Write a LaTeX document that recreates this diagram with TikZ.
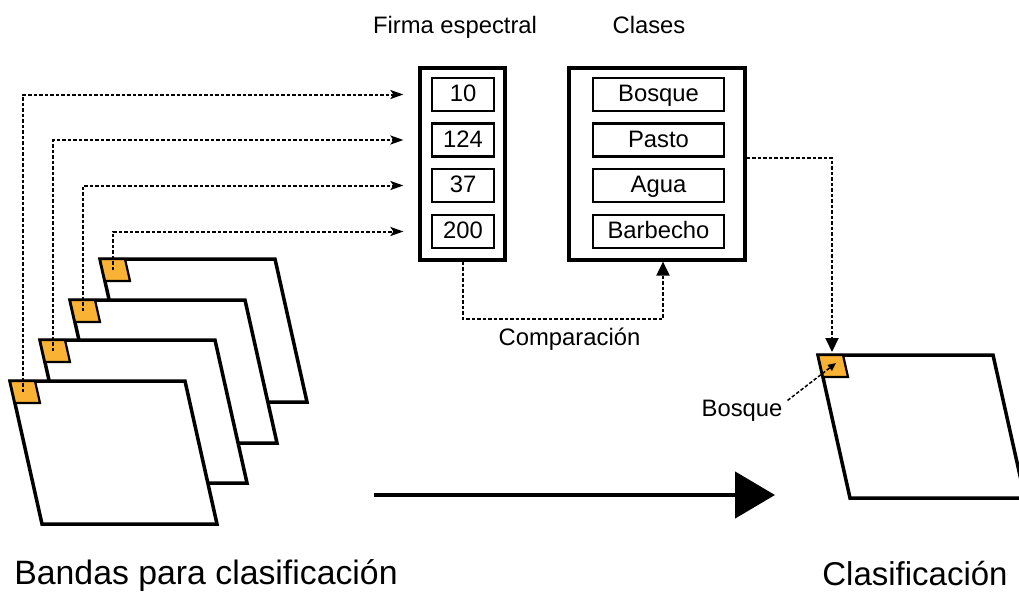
\documentclass[tikz,border=0pt]{standalone}
\usepackage{fontspec}
\setmainfont{Liberation Sans}
\usetikzlibrary{arrows.meta}
\definecolor{orangeband}{RGB}{250,178,52}
\newcommand\txtS{\fontsize{23.8}{28}\selectfont}
\newcommand\txtL{\fontsize{33}{38}\selectfont}
\newcommand\txtB{\fontsize{33.8}{38}\selectfont}
\begin{document}
\begin{tikzpicture}[x=1pt,y=-1pt,
  outerbox/.style={draw=black, line width=3.2pt, fill=white, inner sep=0pt},
  cell/.style={draw=black, line width=2.8pt, minimum width=62pt, minimum height=33pt, inner sep=0pt, text height=18pt, text depth=4pt, font=\txtS},
  bandline/.style={draw=black, line width=3.5pt, line join=miter, fill=white},
  orangeline/.style={draw=black, line width=2.2pt, fill=orangeband},
  dots/.style={draw=black, line width=2pt, dash pattern=on 3.5pt off 2pt},
  label/.style={anchor=base, inner sep=0pt}
]
\useasboundingbox (0,0) rectangle (1019,592);
\begin{scope}
\clip (0,0) rectangle (1019,592);

% stacked bands
\foreach \x/\y/\n in {100/259/4, 70/300/3, 40/340/2, 10/381/1} {
  \draw[bandline] (\x,\y) -- ++(175,0) -- ++(32,143) -- ++(-175,0) -- cycle;
  \draw[orangeline] (\x,\y) -- ++(25,0) -- ++(5,22) -- ++(-25,0) -- cycle;
  \coordinate (o\n) at (\x+13,\y+11);
}

% spectral signature box
\node[outerbox, minimum width=85pt, minimum height=192pt] (firma) at (462.5,164) {};
\node[cell] (f1) at (463,94.5) {10};
\node[cell] (f2) at (463,140) {124};
\node[cell] (f3) at (463,185.5) {37};
\node[cell] (f4) at (463,231.5) {200};

% classes box
\node[outerbox, minimum width=176pt, minimum height=192pt] (clases) at (657,164) {};
\node[cell, minimum width=131pt] (c1) at (658.5,94.5) {Bosque};
\node[cell, minimum width=131pt] (c2) at (658.5,140) {Pasto};
\node[cell, minimum width=131pt] (c3) at (658.5,185.5) {Agua};
\node[cell, minimum width=131pt] (c4) at (658.5,231.5) {Barbecho};

% titles
\node[label, font=\txtS] (tfirma) at (455,33) {Firma espectral};
\node[label, font=\txtS] (tclases) at (649,33) {Clases};
\node[label, font=\txtS] (tcomp) at (569.5,345) {Comparación};
\node[label, font=\txtB] (tbandas) at (206,584) {Bandas para clasificación};
\node[label, font=\txtL] (tclasif) at (915,585) {Clasificación};

% dotted band-to-signature connectors
\coordinate (fin) at ([xshift=-15pt]firma.west);
\foreach \n in {1,2,3,4} {
  \draw[dots, -{Stealth[length=13pt,width=9pt,inset=3pt]}] (o\n) |- (fin |- f\n);
}

% comparison connector
\draw[dots, -{Triangle[length=14pt,width=13pt]}] (firma.south) -- ++(0,57) -| ([xshift=6pt]clases.south);

% result band
\draw[bandline] (818,355) -- ++(175,0) -- ++(32,143) -- ++(-175,0) -- cycle;
\draw[orangeline] (818,355) -- ++(25,0) -- ++(5,22) -- ++(-25,0) -- cycle;
\coordinate (ro) at (836,363);
\coordinate (rtop) at (832,352);

% class to result connector
\draw[dots, -{Triangle[length=14pt,width=13pt]}] ([yshift=6pt]clases.east) -| (rtop);

% Bosque label
\node[label, font=\txtS] (lbosque) at (742,416) {Bosque};
\draw[dots, line width=1.5pt, -{Triangle[length=8pt,width=7pt]}] ([xshift=5pt,yshift=-1pt]lbosque.north east) -- (ro);

% big arrow
\coordinate (as) at (374,495);
\coordinate (ae) at (775,495);
\draw[line width=4.8pt, -{Triangle[length=40pt,width=46pt]}] (as) -- (ae);
\end{scope}
\end{tikzpicture}
\end{document}
